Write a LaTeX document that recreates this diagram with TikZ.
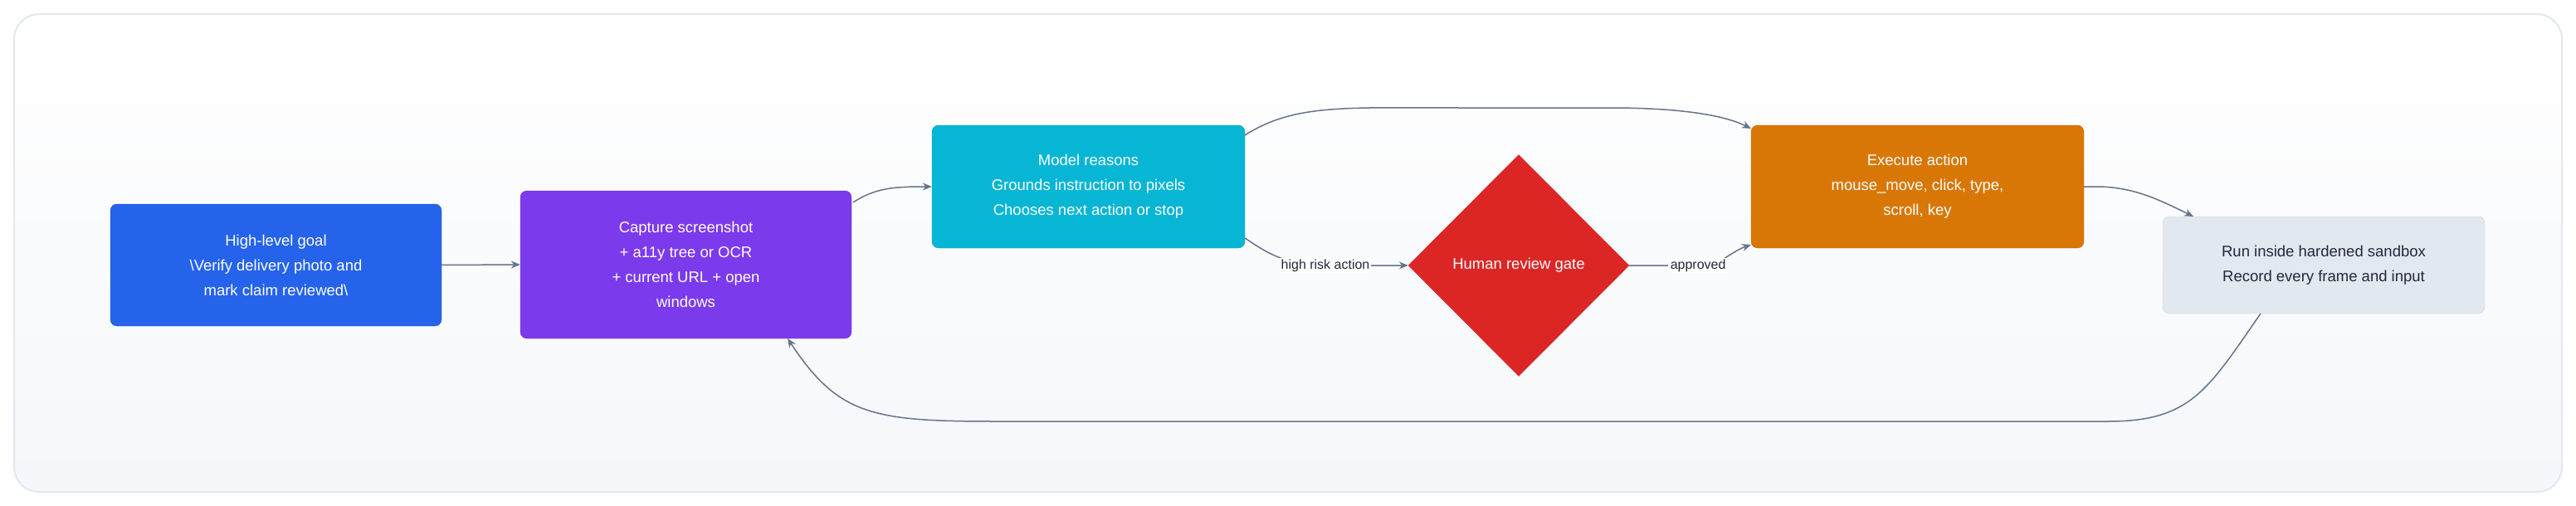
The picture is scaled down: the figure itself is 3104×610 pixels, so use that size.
\documentclass[tikz,border=0pt]{standalone}
\usepackage{fontspec}
\setmainfont{Liberation Sans}
\usetikzlibrary{shapes.geometric,arrows.meta}
\definecolor{cgoal}{HTML}{2563EB}
\definecolor{ccap}{HTML}{7C3AED}
\definecolor{cmod}{HTML}{06B6D4}
\definecolor{cgate}{HTML}{DC2626}
\definecolor{cexe}{HTML}{D97706}
\definecolor{csand}{HTML}{E2E8F0}
\definecolor{csandb}{HTML}{CBD5E1}
\definecolor{cedge}{HTML}{64748B}
\definecolor{ctext}{HTML}{1E293B}
\definecolor{cframe}{HTML}{E2E8F0}
\begin{document}
\begin{tikzpicture}[x=1pt,y=-1pt,
  box/.style={rounded corners=8pt,align=center,font=\fontsize{18.5}{30}\selectfont,text=white,inner sep=0pt},
  edge/.style={draw=cedge,line width=1.5pt,-{Stealth[length=11pt,width=9pt]}},
  lbl/.style={fill=white,font=\fontsize{16}{20}\selectfont,text=ctext,inner sep=2pt}]
\useasboundingbox (0,0) rectangle (3104,610);
\fill[white] (0,0) rectangle (3104,610);
\shade[top color=white,bottom color=cframe!35,draw=cframe,line width=2pt,rounded corners=30pt] (17,17) rectangle (3087,593);
\node[box,fill=cgoal,draw=cgoal!85!black,minimum width=399pt,minimum height=147pt] (goal) at (332.5,319.5) {High-level goal\\\textbackslash Verify delivery photo and\\mark claim reviewed\textbackslash};
\node[box,fill=ccap,draw=ccap!85!black,minimum width=399pt,minimum height=178pt] (cap) at (826.5,319) {Capture screenshot\\+ a11y tree or OCR\\+ current URL + open\\windows};
\node[box,fill=cmod,draw=cmod!85!black,minimum width=377pt,minimum height=148pt] (mod) at (1311.5,225) {Model reasons\\Grounds instruction to pixels\\Chooses next action or stop};
\node[diamond,fill=cgate,draw=cgate,minimum width=266pt,minimum height=267pt,inner sep=0pt,text=white,font=\fontsize{18.5}{22}\selectfont] (gate) at (1830,320) {Human review gate};
\node[box,fill=cexe,draw=cexe!85!black,minimum width=401pt,minimum height=148pt] (exe) at (2310.5,225) {Execute action\\mouse\_move, click, type,\\scroll, key};
\node[box,fill=csand,draw=csandb,text=ctext,minimum width=388pt,minimum height=117pt] (sand) at (2800,319.5) {Run inside hardened sandbox\\Record every frame and input};
\coordinate (mtr) at (1500,163);
\coordinate (mbr) at (1500,287);
\coordinate (ctr) at (1028,244);
\coordinate (etl) at (2110,155);
\coordinate (ebl) at (2110,295);
\coordinate (er) at (2511,225);
\coordinate (st) at (2643,261);
\coordinate (sb) at (2724,378);
\coordinate (cb) at (949,408);
\draw[edge] (goal.east) -- (cap.west);
\draw[edge] (ctr) .. controls (1055,226) and (1080,225) .. (mod.west);
\draw[edge] (mtr) .. controls (1560,125) and (1620,130) .. (1760,130) -- (1940,130) .. controls (2030,130) and (2080,140) .. (etl);
\draw[edge] (mbr) .. controls (1520,300) and (1545,320) .. node[lbl,pos=1] (hr) {high risk action} (1597,320) -- (gate.west);
\draw[edge] (gate.east) -- (2010,320) node[lbl,anchor=west,inner sep=2pt] (ap) {approved} (2065,320) .. controls (2080,310) and (2095,300) .. (ebl);
\draw[edge] (er) -- (2525,225) .. controls (2570,225) and (2600,240) .. (st);
\draw[edge] (sb) .. controls (2660,470) and (2640,508) .. (2540,508) -- (1200,508) .. controls (1050,508) and (1010,500) .. (cb);
\end{tikzpicture}
\end{document}
